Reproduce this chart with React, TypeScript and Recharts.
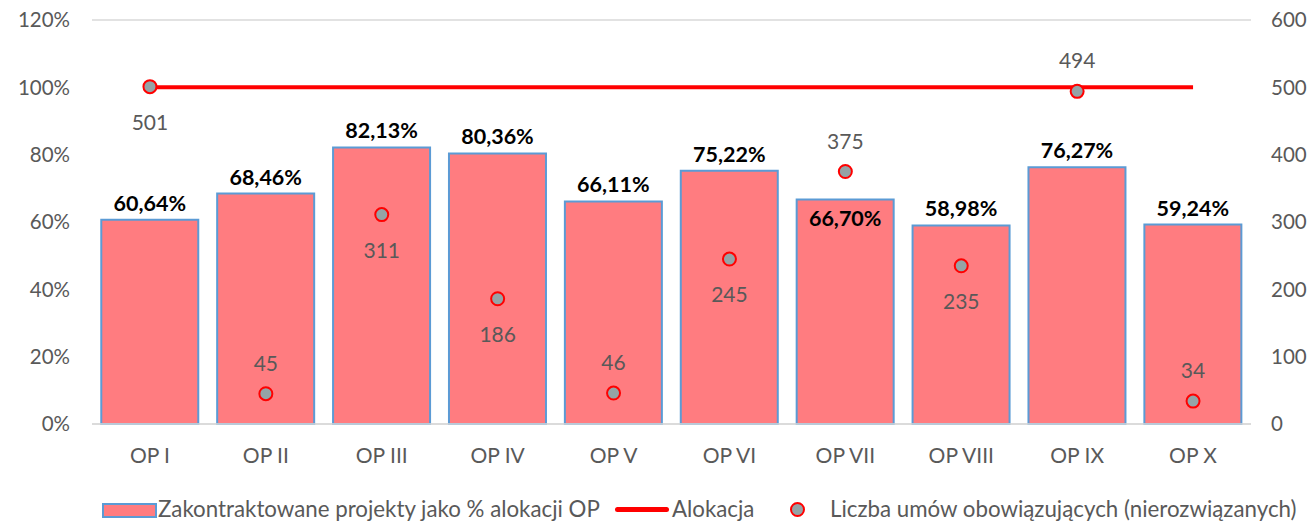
import React from 'react';
import { ComposedChart, Bar, Line, Scatter, XAxis, YAxis, CartesianGrid, Legend, LabelList } from 'recharts';

const categories = ['OP I', 'OP II', 'OP III', 'OP IV', 'OP V', 'OP VI', 'OP VII', 'OP VIII', 'OP IX', 'OP X'];
const contractedPct = [60.64, 68.46, 82.13, 80.36, 66.11, 75.22, 66.7, 58.98, 76.27, 59.24];
const allocationPct = [100, 100, 100, 100, 100, 100, 100, 100, 100, 100];
const contractsCount = [501, 45, 311, 186, 46, 245, 375, 235, 494, 34];
const leftTicks = [0, 20, 40, 60, 80, 100, 120];
const rightTicks = [0, 100, 200, 300, 400, 500, 600];

const data = categories.map((name, i) => ({
  name,
  pct: contractedPct[i],
  alloc: allocationPct[i],
  count: contractsCount[i],
}));

const FONT = 'Lato, "Open Sans", sans-serif';
const GREY = '#595959';
// which labels sit below the point / inside the bar, as in the source
const countBelow = new Set([0, 2, 3, 5, 7]);
const pctInside = new Set([6]);

const fmtPct = (v: number) => v.toFixed(2).replace('.', ',') + '%';

const BarValue = (props: any) => {
  const { x, y, width, value, index } = props;
  const inside = pctInside.has(index);
  return (
    <text
      x={x + width / 2}
      y={inside ? y + 27 : y - 9}
      textAnchor="middle"
      fontFamily={FONT}
      fontSize={21.5}
      fontWeight={700}
      fill="#000"
    >
      {fmtPct(value)}
    </text>
  );
};

const CountDot = (props: any) => {
  const { cx, cy, index, payload } = props;
  const below = countBelow.has(index);
  return (
    <g>
      <circle cx={cx} cy={cy} r={6.5} fill="#95A3A6" stroke="#FF0000" strokeWidth={2} />
      <text
        x={cx}
        y={below ? cy + 43 : cy - 23}
        textAnchor="middle"
        fontFamily={FONT}
        fontSize={21}
        fill={GREY}
      >
        {payload.count}
      </text>
    </g>
  );
};

const ChartLegend = () => (
  <div style={{ position: 'relative', width: 1311, height: 48, fontFamily: FONT, fontSize: 22.3, color: GREY }}>
    <div style={{ position: 'absolute', left: 102, top: 29, width: 51, height: 11, background: '#FF7C80', border: '2px solid #5B9BD5' }} />
    <span style={{ position: 'absolute', left: 158, top: 21, whiteSpace: 'nowrap' }}>Zakontraktowane projekty jako % alokacji OP</span>
    <div style={{ position: 'absolute', left: 615, top: 33, width: 54, height: 5, borderRadius: 3, background: '#FF0000' }} />
    <span style={{ position: 'absolute', left: 672, top: 21, whiteSpace: 'nowrap' }}>Alokacja</span>
    <div style={{ position: 'absolute', left: 790, top: 28, width: 11, height: 11, borderRadius: '50%', background: '#95A3A6', border: '2px solid #FF0000' }} />
    <span style={{ position: 'absolute', left: 830, top: 21, whiteSpace: 'nowrap' }}>Liczba umów obowiązujących (nierozwiązanych)</span>
  </div>
);

export default function App() {
  return (
    <div style={{ position: 'absolute', left: 0, top: 0, background: '#fff' }}>
      <ComposedChart width={1311} height={522} data={data} margin={{ top: 20, right: 0, left: 0, bottom: 0 }} barCategoryGap="8%">
        <CartesianGrid vertical={false} stroke="#D9D9D9" strokeWidth={1.5} />
        <XAxis
          dataKey="name"
          height={50}
          tickLine={false}
          axisLine={{ stroke: '#D9D9D9', strokeWidth: 1.5 }}
          tickMargin={18}
          tick={{ fill: GREY, fontSize: 21, fontFamily: FONT }}
        />
        <YAxis
          yAxisId="left"
          width={92}
          domain={[0, 120]}
          ticks={leftTicks}
          tickFormatter={(v) => `${v}%`}
          tickLine={false}
          axisLine={false}
          tickMargin={16}
          tick={{ fill: GREY, fontSize: 20.5, fontFamily: FONT }}
        />
        <YAxis
          yAxisId="right"
          orientation="right"
          width={60}
          domain={[0, 600]}
          ticks={rightTicks}
          tickLine={false}
          axisLine={false}
          tickMargin={14}
          tick={{ fill: GREY, fontSize: 20.5, fontFamily: FONT, textAnchor: 'start' }}
        />
        <Legend verticalAlign="bottom" height={48} content={() => <ChartLegend />} />
        <Bar yAxisId="left" dataKey="pct" fill="#FF7C80" stroke="#5B9BD5" strokeWidth={2} isAnimationActive={false}>
          <LabelList dataKey="pct" content={<BarValue />} />
        </Bar>
        <Line yAxisId="left" dataKey="alloc" stroke="#FF0000" strokeWidth={4} dot={false} isAnimationActive={false} />
        <Scatter yAxisId="right" dataKey="count" shape={<CountDot />} isAnimationActive={false} />
      </ComposedChart>
    </div>
  );
}
